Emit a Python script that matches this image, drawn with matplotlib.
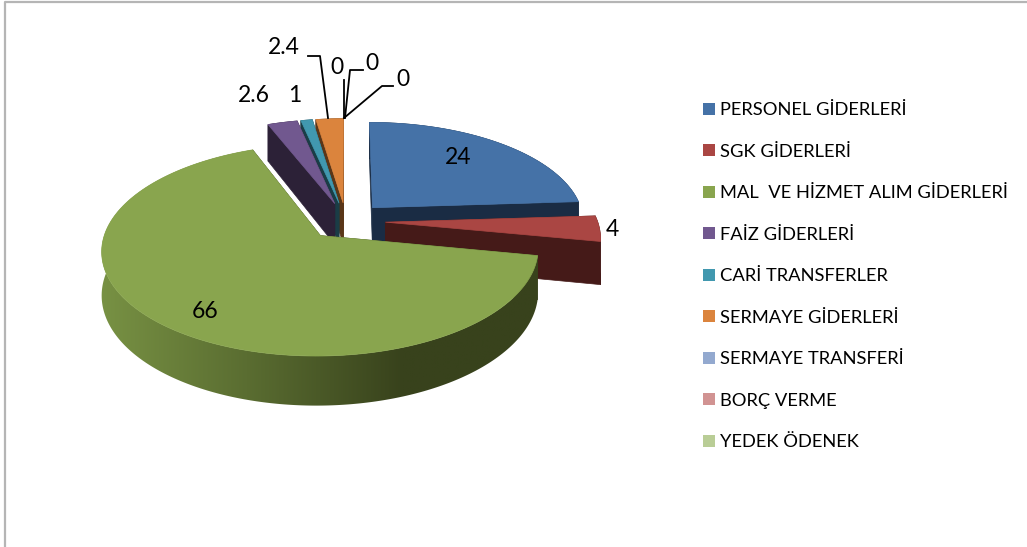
import numpy as np
import matplotlib
matplotlib.use("Agg")
import matplotlib.pyplot as plt
from matplotlib.colors import LinearSegmentedColormap
from matplotlib.patches import Patch, Polygon

plt.rcParams["font.family"] = ["Lato", "DejaVu Sans"]

categories = [
    "PERSONEL GİDERLERİ",
    "SGK GİDERLERİ",
    "MAL  VE HİZMET ALIM GİDERLERİ",
    "FAİZ GİDERLERİ",
    "CARİ TRANSFERLER",
    "SERMAYE GİDERLERİ",
    "SERMAYE TRANSFERİ",
    "BORÇ VERME",
    "YEDEK ÖDENEK",
]
values = [24, 4, 66, 2.6, 1, 2.4, 0, 0, 0]
value_labels = ["24", "4", "66", "2.6", "1", "2.4", "0", "0", "0"]
top_colors = ["#4572A7", "#AA4643", "#89A54E", "#71588F", "#4198AF", "#DB843D", "#93A9CF", "#D19392", "#B9CD96"]
wall_colors = ["#1A2C44", "#451A18", "#38421C", "#2C2137", "#1A3D46", "#5A3618", "#93A9CF", "#D19392", "#B9CD96"]

# 饼图投影参数（像素）
cx, cy = 346, 221
rx, ry = 212, 100
persp = 0.134
depth = 42
explode = 0.186

label_pos = [(458, 157), (612, 230), (205, 312), (254, 96), (295, 95), (284, 48), (337, 67), (372, 63), (403, 79)]
leaders = [
    None, None, None, None, None,
    [(308, 56), (320, 56), (328, 118)],
    [(344, 80), (344, 118)],
    [(363, 70), (350, 70), (345, 118)],
    [(393, 86), (382, 86), (344, 118)],
]


def project(px, py, down=0.0):
    s = 1 / (1 - persp * py)
    return cx + rx * px * s, cy + ry * py * s + down * s


fig = plt.figure(figsize=(10.27, 5.47), dpi=100)
ax = fig.add_axes([0, 0, 1, 1])
ax.axis("off")

# 外框
ax.plot([5, 5, 1027], [547, 2, 2], color="#B5B5B5", linewidth=1.6)

edges = np.cumsum([0] + values) * 3.6
green_map = LinearSegmentedColormap.from_list("wall", ["#7A9445", "#5A6D31", "#38421C", "#38421C"])
mids = (edges[:-1] + edges[1:]) / 2

# 画家算法：从后往前画
order = sorted(range(len(values)), key=lambda i: -np.cos(np.radians(mids[i])))
for rank, i in enumerate(order):
    if values[i] == 0:
        continue
    z = 2 + rank * 0.1
    mid = np.radians(mids[i])
    ox, oy = explode * np.sin(mid), -explode * np.cos(mid)
    t = np.radians(np.linspace(edges[i], edges[i + 1], 300))
    arc_x = ox + np.sin(t)
    arc_y = oy - np.cos(t)
    tx, ty = project(arc_x, arc_y)
    bx, by = project(arc_x, arc_y, depth)
    ax0, ay0 = project(ox, oy)
    bx0, by0 = project(ox, oy, depth)

    for j in (0, -1):
        ax.fill([ax0, tx[j], bx[j], bx0], [ay0, ty[j], by[j], by0], color=wall_colors[i], linewidth=0.5, zorder=z)

    wall_xy = np.c_[np.r_[tx, bx[::-1]], np.r_[ty, by[::-1]]]
    if values[i] == max(values):
        grad = ax.imshow(
            np.linspace(0, 1, 256).reshape(1, -1),
            cmap=green_map,
            extent=(90, 560, 420, 150),
            aspect="auto",
            zorder=z,
        )
        grad.set_clip_path(Polygon(wall_xy, transform=ax.transData))
    else:
        ax.add_patch(Polygon(wall_xy, facecolor=wall_colors[i], edgecolor=wall_colors[i], linewidth=0.5, zorder=z))

    ax.fill(np.r_[ax0, tx], np.r_[ay0, ty], color=top_colors[i], linewidth=0.5, zorder=z + 0.01)

ax.set_xlim(0, 1027)
ax.set_ylim(547, 0)

for lab, (lx, ly) in zip(value_labels, label_pos):
    ax.text(lx, ly, lab, fontsize=16.5, ha="center", va="center", color="black", zorder=5)
for line in leaders:
    if line is not None:
        xs, ys = zip(*line)
        ax.plot(xs, ys, color="black", linewidth=1.3, zorder=4)

handles = [Patch(facecolor=c, edgecolor="none", label=n) for c, n in zip(top_colors, categories)]
ax.legend(
    handles=handles,
    loc="upper left",
    bbox_to_anchor=(0.6845, 0.813),
    frameon=False,
    fontsize=13.2,
    handlelength=0.65,
    handleheight=0.65,
    handletextpad=0.27,
    labelspacing=1.39,
    borderpad=0,
    borderaxespad=0,
)

plt.savefig("out.png", dpi=100)
plt.close()
